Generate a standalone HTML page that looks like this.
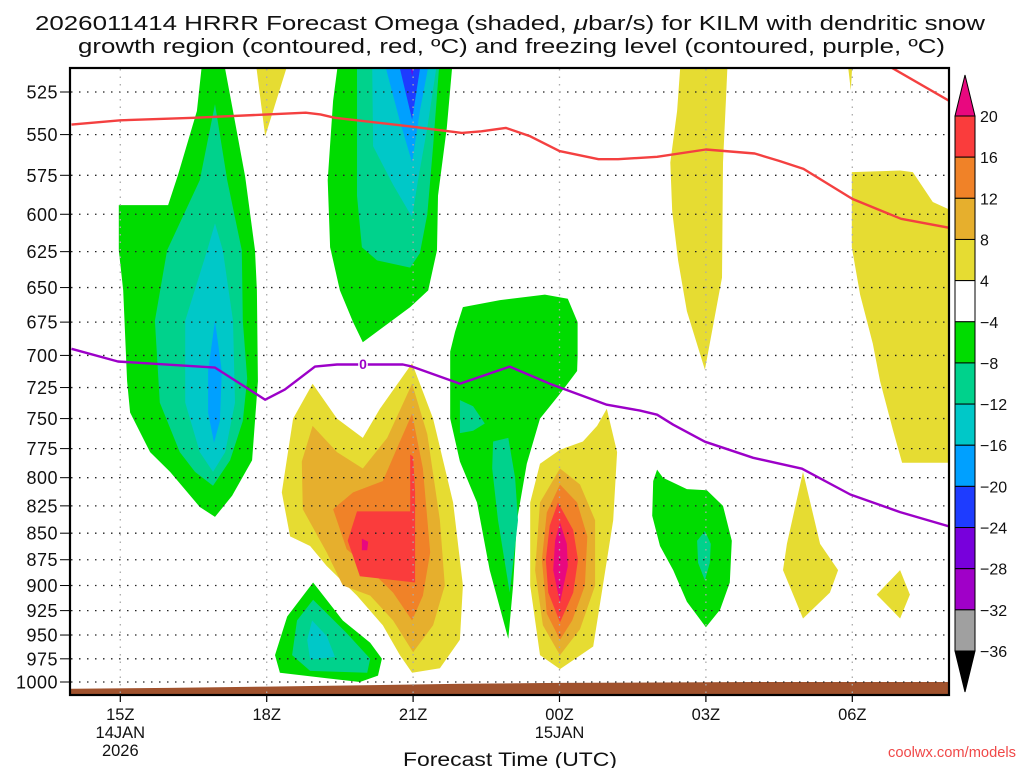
<!DOCTYPE html>
<html><head><meta charset="utf-8">
<style>
html,body{margin:0;padding:0;background:#fff;}
svg{display:block;font-family:"Liberation Sans","DejaVu Sans",sans-serif;}
</style></head>
<body>
<svg id="chart" width="1024" height="768" viewBox="0 0 1024 768" xmlns="http://www.w3.org/2000/svg">
<rect x="0" y="0" width="1024" height="768" fill="#fff"/>
<text x="35" y="30" textLength="950" lengthAdjust="spacingAndGlyphs" font-size="20" fill="#111">2026011414 HRRR Forecast Omega (shaded, <tspan font-style="italic">μ</tspan>bar/s) for KILM with dendritic snow</text>
<text x="78" y="53" textLength="867" lengthAdjust="spacingAndGlyphs" font-size="20" fill="#111">growth region (contoured, red, ºC) and freezing level (contoured, purple, ºC)</text>
<defs><clipPath id="plotclip"><rect x="70" y="68" width="879" height="627"/></clipPath></defs>
<g id="field" clip-path="url(#plotclip)"></g>
<g id="grid"></g>
<g id="lines" clip-path="url(#plotclip)"></g>
<g id="axes"></g>
<g id="cbar"></g>
<text x="403" y="766" textLength="214" lengthAdjust="spacingAndGlyphs" font-size="19" fill="#111">Forecast Time (UTC)</text>
<text x="888" y="757" textLength="128" lengthAdjust="spacingAndGlyphs" font-size="15" fill="#f04848">coolwx.com/models</text>
</svg>
<script>
// ---- axis data ----
const pressureTicks = [525,550,575,600,625,650,675,700,725,750,775,800,825,850,875,900,925,950,975,1000];
const timeTickHours = [1,4,7,10,13,16];
const timeTickLabels = ["15Z","18Z","21Z","00Z","03Z","06Z"];
const timeSubLabels = [["14JAN","2026"],[],[],["15JAN"],[],[]];
// ---- colorbar data ----
const cbarLevels = [20,16,12,8,4,-4,-8,-12,-16,-20,-24,-28,-32,-36];
const cbarColors = ["#fa3c3c","#f08228","#e6af2d","#e6dc32","#ffffff","#00dc00","#00d28c","#00c8c8","#00a0ff","#1e3cff","#7800dc","#a000c8","#a0a0a0"];
const cbarHighColor = "#e8087f";
const cbarLowColor = "#000000";
// ---- line data (hour since 14Z, pressure hPa) ----
const dgzHours = [0,1,2.5,4.8,5.1,5.4,6.9,8,8.4,8.9,9.4,10,10.8,11.2,12,13,14,14.5,15,16,17,18];
const dgzPress = [544,541.5,540,537,538,540,545,549,548,546,551,560,565,565,563.5,559,561.5,566,571,590,603,609];
const dgz2Hours = [16.6,18.1];
const dgz2Press = [508,532];
const frzHours = [0,0.95,2.94,3.39,3.97,4.37,4.99,5.44,6.79,6.98,7.96,8.98,9.8,10.97,11.65,12,12.33,12.98,13.97,14.97,15.96,16.98,18];
const frzPress = [695,704.7,709.4,720.3,734.7,726.6,708.6,707,707,708.6,722,708.6,722,738.7,743.5,746.8,755,769.2,782.8,792.2,814.8,830.6,844];
const sfcHours = [-0.5,0,2,4,6,8,10,12,14,18.5];
const sfcPress = [1007.5,1007.5,1006.5,1005,1003.5,1002,1001,1000.5,1000,1000];
// ---- shaded omega contour regions [hour, pressure] ----
const blobAGreen = [[2.69,505],[3.10,505],[3.31,536],[3.56,576],[3.76,624],[3.80,652],[3.82,720],[3.70,785],[3.29,816],[2.94,835],[2.63,826],[2.02,795],[1.61,778],[1.20,745],[1.14,720],[1.06,652],[0.97,624],[0.97,594],[1.98,594],[2.18,575],[2.57,536]];
const blobATeal = [[2.94,532],[3.19,578],[3.49,624],[3.51,674],[3.60,718],[3.51,752],[3.25,785],[2.90,807],[2.53,795],[2.22,778],[1.81,737],[1.71,674],[1.96,624],[2.63,578]];
const blobACyan = [[2.94,606],[3.10,624],[3.31,674],[3.35,737],[3.15,778],[2.90,795],[2.63,778],[2.33,737],[2.33,674],[2.78,624]];
const blobABlue = [[2.94,674],[3.08,712],[3.04,752],[2.92,770],[2.80,745],[2.80,712]];
const blobBGreen = [[5.48,505],[7.82,505],[7.69,546],[7.51,588],[7.49,624],[7.31,652],[6.94,664],[5.97,690],[5.77,675],[5.50,652],[5.30,622],[5.25,578],[5.36,530]];
const blobBTeal = [[5.85,505],[7.55,505],[7.41,557],[7.29,600],[7.14,626],[6.94,636],[6.26,631],[5.95,622],[5.85,588]];
const blobBCyan = [[6.16,505],[7.51,505],[7.29,546],[7.10,578],[6.98,602],[6.59,581],[6.18,557]];
const blobBBlue = [[6.38,505],[7.35,505],[7.14,536],[6.98,567],[6.73,542]];
const blobBDarkBlue = [[6.67,505],[7.18,505],[6.98,541]];
const blobBPurple = [[6.92,505],[7.04,505],[6.98,516]];
const topYellow = [[3.76,505],[4.48,505],[3.97,551]];
const blobCYellow = [[6.98,706],[7.41,750],[7.82,822],[8.02,900],[7.96,955],[7.55,985],[6.98,990],[6.73,971],[6.38,940],[5.85,910],[5.23,881],[4.89,862],[4.48,853],[4.31,813],[4.54,750],[4.94,722],[5.44,750],[5.97,766],[6.32,742]];
const blobCGold = [[6.98,722],[7.29,763],[7.55,838],[7.65,900],[7.41,940],[7.00,968],[6.59,935],[6.12,910],[5.56,900],[5.23,868],[4.74,828],[4.72,786],[4.94,756],[5.44,778],[5.97,792],[6.47,766]];
const blobCOrange = [[6.98,746],[7.20,792],[7.35,868],[7.20,910],[6.98,935],[6.59,907],[5.97,878],[5.64,865],[5.36,828],[5.77,813],[6.38,803],[6.73,769]];
const blobCRed = [[5.85,830],[6.94,830],[6.94,780],[7.00,782],[7.04,813],[7.04,897],[5.91,891],[5.66,857]];
const blobCMagenta = [[5.95,855],[6.08,858],[6.06,866],[5.95,866]];
const blobDGreen = [[4.95,897],[5.56,935],[6.12,958],[6.36,975],[6.28,993],[5.91,1000],[5.23,996],[4.27,990],[4.17,971],[4.42,931]];
const blobDTeal = [[4.95,914],[5.64,948],[6.12,975],[6.06,990],[4.89,988],[4.52,971],[4.62,935]];
const blobDCyan = [[4.93,935],[5.23,951],[5.40,973],[4.89,976],[4.83,955]];
const blobEGreen = [[7.86,682],[8.02,664],[8.78,659],[9.70,655],[10.17,658],[10.37,675],[10.37,701],[10.36,712],[10.01,730],[9.60,750],[9.33,788],[9.13,838],[9.05,900],[8.95,954],[8.57,885],[8.31,822],[7.96,786],[7.76,750],[7.76,697]];
const blobETealA = [[7.96,735],[8.23,740],[8.47,754],[8.23,760],[7.96,762]];
const blobETealB = [[8.64,769],[8.95,766],[9.09,800],[9.15,838],[8.98,907],[8.74,838],[8.62,792]];
const blobFYellow = [[10.97,742],[11.18,778],[11.10,838],[10.89,900],[10.69,962],[10.01,986],[9.60,971],[9.40,900],[9.40,822],[9.60,788],[10.01,776],[10.48,769],[10.77,756]];
const blobFGold = [[10.01,792],[10.42,806],[10.73,838],[10.73,900],[10.42,944],[10.01,971],[9.66,940],[9.50,885],[9.60,822]];
const blobFOrange = [[10.01,806],[10.36,822],[10.57,853],[10.52,900],[10.26,935],[10.01,955],[9.74,928],[9.64,875],[9.74,831]];
const blobFRed = [[9.97,822],[10.28,847],[10.38,875],[10.28,907],[10.01,937],[9.77,907],[9.72,875],[9.80,843]];
const blobFMagenta = [[10.01,840],[10.15,860],[10.17,881],[10.01,917],[9.87,885],[9.91,857]];
const blobGYellow = [[12.49,505],[13.45,505],[13.41,530],[13.35,567],[13.33,643],[12.98,711],[12.61,667],[12.43,631],[12.31,598],[12.27,567],[12.41,536]];
const blobHGreen = [[12.0,793],[12.12,800],[12.61,810],[13.02,811],[13.35,825],[13.53,857],[13.49,897],[13.29,924],[13.0,942],[12.61,916],[12.33,885],[12.06,862],[11.90,834],[11.92,803]];
const blobHTeal = [[12.98,848],[13.10,860],[13.08,878],[12.98,895],[12.84,878],[12.82,857]];
const blobIYellow = [[14.99,795],[15.34,860],[15.71,885],[15.54,907],[14.99,933],[14.58,885],[14.66,860]];
const blobJYellow = [[16.98,885],[17.18,909],[16.98,933],[16.50,909]];
const blobKYellow = [[15.89,505],[16.01,505],[15.97,524]];
const blobLYellow = [[15.99,573],[16.98,572],[17.24,573],[17.65,592],[18.2,600],[18.2,787],[17.02,787],[16.83,759],[16.57,720],[16.42,691],[16.16,655],[15.99,622]];
const regions = [
  ["blob-a-green",blobAGreen,-6],["blob-a-teal",blobATeal,-10],["blob-a-cyan",blobACyan,-14],["blob-a-blue",blobABlue,-18],
  ["blob-b-green",blobBGreen,-6],["blob-b-teal",blobBTeal,-10],["blob-b-cyan",blobBCyan,-14],["blob-b-blue",blobBBlue,-18],["blob-b-darkblue",blobBDarkBlue,-22],["blob-b-purple",blobBPurple,-26],
  ["top-yellow",topYellow,6],
  ["blob-c-yellow",blobCYellow,6],["blob-c-gold",blobCGold,10],["blob-c-orange",blobCOrange,14],["blob-c-red",blobCRed,18],["blob-c-magenta",blobCMagenta,22],
  ["blob-d-green",blobDGreen,-6],["blob-d-teal",blobDTeal,-10],["blob-d-cyan",blobDCyan,-14],
  ["blob-e-green",blobEGreen,-6],["blob-e-teal-a",blobETealA,-10],["blob-e-teal-b",blobETealB,-10],
  ["blob-f-yellow",blobFYellow,6],["blob-f-gold",blobFGold,10],["blob-f-orange",blobFOrange,14],["blob-f-red",blobFRed,18],["blob-f-magenta",blobFMagenta,22],
  ["blob-g-yellow",blobGYellow,6],["blob-h-green",blobHGreen,-6],["blob-h-teal",blobHTeal,-10],
  ["blob-i-yellow",blobIYellow,6],["blob-j-yellow",blobJYellow,6],["blob-k-yellow",blobKYellow,6],["blob-l-yellow",blobLYellow,6]
];

const NS = "http://www.w3.org/2000/svg";
const X0 = 71.5, XS = 48.8;
const Y0 = 92, YS = 590 / Math.log(1000/525);
function xs(h){ return X0 + h*XS; }
function ys(p){ return Y0 + Math.log(p/525)*YS; }
function mk(tag, attrs, parent){ const e=document.createElementNS(NS,tag); for(const k in attrs) e.setAttribute(k,attrs[k]); parent.appendChild(e); return e; }
function colorFor(v){
  if (v>=20) return cbarHighColor;
  if (v<-36) return cbarLowColor;
  for (let i=0;i<cbarLevels.length-1;i++){ if (v<cbarLevels[i] && v>=cbarLevels[i+1]) return cbarColors[i]; }
  return "#fff";
}
function pts(arr){ return arr.map(a=>xs(a[0]).toFixed(1)+","+ys(a[1]).toFixed(1)).join(" "); }

const field = document.getElementById("field");
regions.forEach(r=>{
  const el = mk("polygon",{points:pts(r[1]),fill:colorFor(r[2])},field);
  
  
});
const terr = [];
sfcHours.forEach((h,i)=>terr.push([h,sfcPress[i]]));
terr.push([18.5,1030],[-0.5,1030]);
const t = mk("polygon",{points:pts(terr),fill:"#a0522d"},field);



const grid = document.getElementById("grid");
pressureTicks.forEach(p=>{
  const l = mk("line",{x1:71,x2:948,y1:ys(p),y2:ys(p),stroke:"#222","stroke-width":1.3,"stroke-dasharray":"1.5 6.5"},grid);
  
  
});
timeTickHours.forEach(h=>{
  const l = mk("line",{x1:xs(h),x2:xs(h),y1:69,y2:694,stroke:"#aaa","stroke-width":1.3,"stroke-dasharray":"1.5 6"},grid);
  
  
});

const lines = document.getElementById("lines");
function poly(hs,ps,color,name){
  const l = mk("polyline",{points:pts(hs.map((h,i)=>[h,ps[i]])),fill:"none",stroke:color,"stroke-width":2.4,"stroke-linejoin":"round"},lines);
  
  
}
poly(dgzHours,dgzPress,"#f44040","dendritic-growth-contour");
poly(dgz2Hours,dgz2Press,"#f44040","dendritic-growth-contour-upper");
poly(frzHours,frzPress,"#9c00c8","freezing-level-contour");
const lbl = mk("text",{x:363,y:369,"text-anchor":"middle","font-size":14,"font-weight":"bold",fill:"#9c00c8",stroke:"#fff","stroke-width":3,"paint-order":"stroke"},lines);
lbl.textContent="0";



const axes = document.getElementById("axes");
const fr = mk("rect",{x:70,y:68,width:879,height:627,fill:"none",stroke:"#000","stroke-width":2.2},axes);


pressureTicks.forEach(p=>{
  mk("line",{x1:60,x2:69,y1:ys(p),y2:ys(p),stroke:"#000","stroke-width":1},axes);
  const tx = mk("text",{x:58,y:ys(p)+6.5,"text-anchor":"end","font-size":18,fill:"#111","letter-spacing":"0.5"},axes);
  tx.textContent = p;
  
  
});
timeTickHours.forEach((h,i)=>{
  mk("line",{x1:xs(h),x2:xs(h),y1:696,y2:702,stroke:"#000","stroke-width":1.2},axes);
  const tx = mk("text",{x:xs(h),y:720,"text-anchor":"middle","font-size":16.5,fill:"#111"},axes);
  tx.textContent = timeTickLabels[i];
  
  
  timeSubLabels[i].forEach((s,j)=>{
    const st = mk("text",{x:xs(h),y:738+j*18,"text-anchor":"middle","font-size":16.5,fill:"#111"},axes);
    st.textContent = s;
    
    
  });
});

const cb = document.getElementById("cbar");
const CBX = 955, CBW = 20, CBT = 116, CBH = (651-116)/cbarColors.length;
const up = mk("polygon",{points:`${CBX},${CBT} ${CBX+CBW},${CBT} ${CBX+CBW/2},75`,fill:cbarHighColor,stroke:"#000","stroke-width":1},cb);


cbarColors.forEach((c,i)=>{
  const r = mk("rect",{x:CBX,y:CBT+i*CBH,width:CBW,height:CBH,fill:c,stroke:"#000","stroke-width":1},cb);
  
  
});
const dn = mk("polygon",{points:`${CBX},651 ${CBX+CBW},651 ${CBX+CBW/2},692`,fill:cbarLowColor,stroke:"#000","stroke-width":1},cb);


cbarLevels.forEach((v,i)=>{
  const tx = mk("text",{x:980,y:CBT+i*CBH+6,"font-size":16,fill:"#111"},cb);
  tx.textContent = v<0 ? "\u2212"+(-v) : String(v);
  
  
});
</script>
</body></html>
